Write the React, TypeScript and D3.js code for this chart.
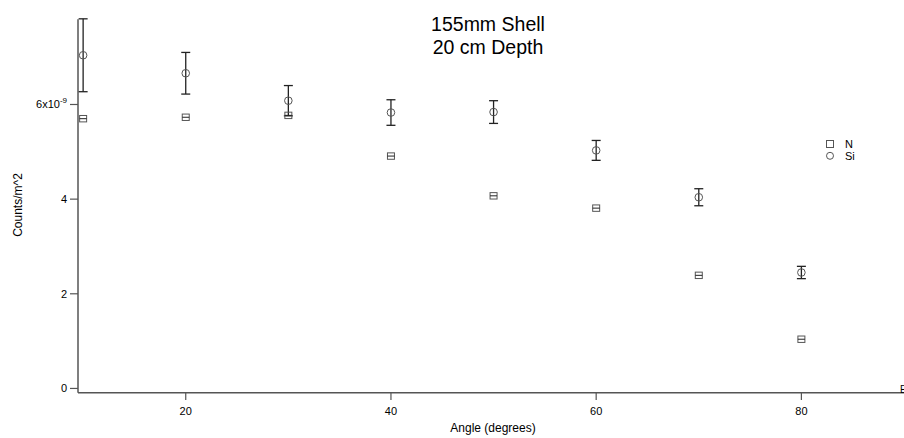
import React from "react";
import * as d3 from "d3";

const angles = [10, 20, 30, 40, 50, 60, 70, 80];
const nValues = [5.70, 5.73, 5.77, 4.91, 4.07, 3.81, 2.39, 1.04];
const siValues = [7.04, 6.66, 6.08, 5.83, 5.84, 5.03, 4.04, 2.45];
const siErrors = [0.77, 0.44, 0.32, 0.27, 0.24, 0.21, 0.18, 0.13];
const xTicks = [20, 40, 60, 80];
const yTicks = [0, 2, 4, 6];
const title = ["155mm Shell", "20 cm Depth"];
const seriesNames = ["N", "Si"];

const W = 904;
const H = 438;
const FONT = "'Liberation Sans', Arial, sans-serif";

export default function App() {
  const x = d3.scaleLinear().domain([9.5, 90]).range([78, 904]);
  const y = d3.scaleLinear().domain([-0.09, 7.8]).range([392.7, 19.3]);
  const axisColor = "#555";
  const markColor = "#555";
  const barColor = "#222";
  const cap = 4.5;

  const errorBar = (xv: number, v: number, e: number, key: string) => {
    const px = x(xv);
    const top = y(v + e);
    const bot = y(v - e);
    return (
      <g key={key} stroke={barColor} strokeWidth={1.3}>
        <line x1={px} x2={px} y1={top} y2={bot} />
        <line x1={px - cap} x2={px + cap} y1={top} y2={top} />
        <line x1={px - cap} x2={px + cap} y1={bot} y2={bot} />
      </g>
    );
  };

  return (
    <svg
      width={W}
      height={H}
      style={{ position: "absolute", left: 0, top: 0, background: "#fff" }}
      fontFamily={FONT}
    >
      <text x={488} y={31} fontSize={19.5} textAnchor="middle" fill="#000">
        {title[0]}
      </text>
      <text x={488} y={54} fontSize={19.5} textAnchor="middle" fill="#000">
        {title[1]}
      </text>

      <line x1={78} x2={78} y1={y.range()[1]} y2={y.range()[0]} stroke={axisColor} strokeWidth={1.5} />
      <line x1={78} x2={904} y1={392.7} y2={392.7} stroke={axisColor} strokeWidth={1.5} />

      {yTicks.map((t) => (
        <g key={"yt" + t}>
          <line x1={70} x2={78} y1={y(t)} y2={y(t)} stroke={axisColor} strokeWidth={1.2} />
          {t === 6 ? (
            <text x={67} y={y(t) + 4} fontSize={11} textAnchor="end" fill="#000">
              6x10<tspan dy={-5} fontSize={8}>-9</tspan>
            </text>
          ) : (
            <text x={67} y={y(t) + 4} fontSize={11} textAnchor="end" fill="#000">
              {t}
            </text>
          )}
        </g>
      ))}

      {xTicks.map((t) => (
        <g key={"xt" + t}>
          <line x1={x(t)} x2={x(t)} y1={392.7} y2={400} stroke={axisColor} strokeWidth={1.2} />
          <text x={x(t)} y={415} fontSize={11} textAnchor="middle" fill="#000">
            {t}
          </text>
        </g>
      ))}

      <text x={900} y={393} fontSize={10} fill="#000">E</text>

      <text x={493} y={432} fontSize={12} textAnchor="middle" fill="#000">
        Angle (degrees)
      </text>
      <text
        transform={`translate(22, 205) rotate(-90)`}
        fontSize={12}
        textAnchor="middle"
        fill="#000"
      >
        Counts/m^2
      </text>

      {angles.map((a, i) => errorBar(a, siValues[i], siErrors[i], "sie" + i))}
      {angles.map((a, i) => (
        <circle
          key={"sic" + i}
          cx={x(a)}
          cy={y(siValues[i])}
          r={3.8}
          fill="none"
          stroke={markColor}
          strokeWidth={1}
        />
      ))}

      {angles.map((a, i) => {
        const px = x(a);
        const py = y(nValues[i]);
        return (
          <g key={"n" + i}>
            <rect x={px - 3.5} y={py - 3.2} width={7} height={6.4} fill="none" stroke={markColor} strokeWidth={1} />
            <line x1={px - 3.5} x2={px + 3.5} y1={py} y2={py} stroke={barColor} strokeWidth={1} />
          </g>
        );
      })}

      <rect x={826.5} y={140.5} width={7} height={7} fill="none" stroke={markColor} strokeWidth={1} />
      <text x={845} y={148} fontSize={11} fill="#000">{seriesNames[0]}</text>
      <circle cx={830} cy={155.8} r={3.5} fill="none" stroke={markColor} strokeWidth={1} />
      <text x={845} y={160} fontSize={11} fill="#000">{seriesNames[1]}</text>
    </svg>
  );
}
